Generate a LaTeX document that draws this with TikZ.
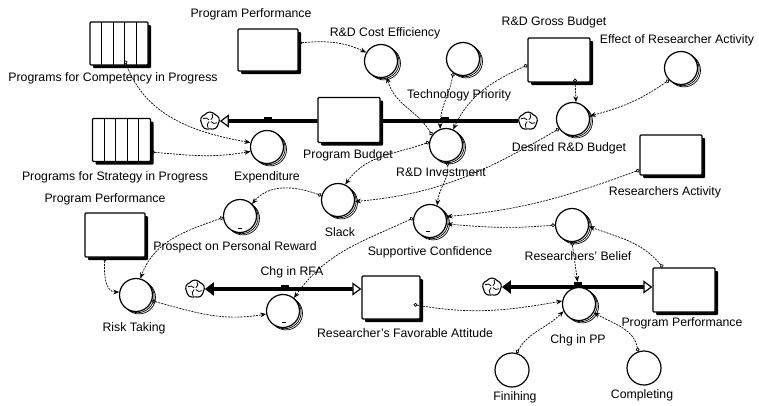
\documentclass[tikz,border=0pt]{standalone}
\usepackage{fontspec}
\setmainfont{Liberation Sans}
\usetikzlibrary{arrows.meta,shapes.symbols,shadows}
\pgfdeclarelayer{bg}
\pgfdeclarelayer{pipes}
\pgfsetlayers{bg,pipes,main}
\tikzset{
  stock/.style={draw, line width=1.2pt, fill=white, rounded corners=1pt,
    minimum width=60pt, minimum height=42pt, inner sep=0pt,
    drop shadow={shadow xshift=3pt, shadow yshift=-3pt, fill=black, opacity=1}},
  conveyor/.style={stock, minimum width=58pt, minimum height=43pt,
    path picture={\foreach \k in {1,2,3,4}{\draw[line width=1pt]
      ([xshift=\k*11.6pt]path picture bounding box.south west) --
      ([xshift=\k*11.6pt]path picture bounding box.north west);}}},
  aux/.style={circle, draw, line width=1.2pt, fill=white, minimum size=33pt, inner sep=0pt,
    copy shadow={shadow xshift=3pt, shadow yshift=-2.4pt, line width=0.7pt},
    copy shadow={shadow xshift=1.6pt, shadow yshift=-1.2pt, line width=0.7pt}},
  plainaux/.style={circle, draw, line width=1.2pt, fill=white, minimum size=34pt, inner sep=0pt},
  sink/.style={cloud, cloud puffs=5, cloud puff arc=110, aspect=1, draw, line width=1.1pt,
    fill=white, minimum width=19pt, minimum height=18pt, inner sep=0pt,
    path picture={\foreach \a in {45,135,225,315}{\draw[line width=0.8pt]
      (path picture bounding box.center) ++(\a:1.2pt)
      arc[start angle=\a-100, end angle=\a-10, radius=4.5pt];}}},
  valve/.style={fill=black, minimum width=8pt, minimum height=6pt, inner sep=0pt},
  pipe/.style={line width=3.8pt},
  lbl/.style={inner sep=0pt},
  gmark/.style={line width=0.8pt},
  conn/.style={line width=0.7pt, dash pattern=on 2pt off 1.1pt,
    {Circle[open,length=3.8pt,line width=0.7pt]}-{Stealth[length=6pt,width=4.8pt]}},
  hollowtip/.style={-{Triangle[open,length=9pt,width=13pt,line width=1.2pt]}},
}
\begin{document}
\begin{tikzpicture}[x=1pt, y=1pt, font=\fontsize{12.3}{14}\selectfont]
\useasboundingbox (0,0) rectangle (759,-405);
\begin{pgfonlayer}{bg}
  \fill[white] (0,0) rectangle (759,-405);
\end{pgfonlayer}

% conveyors
\node[conveyor] (pcomp) at (119,-43.5) {};
\node[lbl] (tpcomp) at (113,-78) {Programs for Competency in Progress};
\node[conveyor] (pstrat) at (121.5,-140) {};
\node[lbl] (tpstrat) at (115,-177) {Programs for Strategy in Progress};

% stocks
\node[stock] (pptop) at (268,-50) {};
\node[lbl] (tpptop) at (251,-14) {Program Performance};
\node[stock, minimum width=62pt, minimum height=45pt] (pbud) at (349,-120) {};
\node[lbl] (tpbud) at (348,-155) {Program Budget};
\node[stock, minimum width=62pt, minimum height=44pt] (rdgb) at (559,-60) {};
\node[lbl] (trdgb) at (554,-22) {R\&D Gross Budget};
\node[stock, minimum width=62pt, minimum height=40pt] (ract) at (671,-155) {};
\node[lbl] (tract) at (665,-192) {Researchers Activity};
\node[stock, minimum height=44pt] (ppleft) at (115,-235) {};
\node[lbl] (tppleft) at (105,-199) {Program Performance};
\node[stock, minimum width=58pt, minimum height=43pt] (rfa) at (391,-297.5) {};
\node[lbl] (trfa) at (405,-333) {Researcher's Favorable Attitude};
\node[stock, minimum width=62pt, minimum height=44pt] (ppright) at (684,-290) {};
\node[lbl] (tppright) at (682,-323) {Program Performance};

% converters
\node[aux] (rdce) at (381,-61) {};
\node[lbl] (trdce) at (385,-33) {R\&D Cost Efficiency};
\node[aux] (tech) at (463,-59) {};
\node[lbl] (ttech) at (459,-95) {Technology Priority};
\node[aux] (effra) at (681,-68) {};
\node[lbl] (teffra) at (677,-40) {Effect of Researcher Activity};
\node[aux] (drdb) at (573,-119) {};
\node[lbl] (tdrdb) at (569,-148) {Desired R\&D Budget};
\node[aux] (expd) at (267,-147) {};
\node[lbl] (texpd) at (267,-177) {Expenditure};
\node[aux] (rdinv) at (446,-145) {};
\node[lbl] (trdinv) at (441,-172) {R\&D Investment};
\node[aux] (slack) at (338,-200) {};
\node[lbl] (tslack) at (340,-232) {Slack};
\node[aux] (ppr) at (240,-216) {};
\node[lbl] (tppr) at (235,-247) {Prospect on Personal Reward};
\node[aux] (supc) at (430,-221) {};
\node[lbl] (tsupc) at (430,-252) {Supportive Confidence};
\node[aux] (rbel) at (572,-225) {};
\node[lbl] (trbel) at (578,-256) {Researchers' Belief};
\node[aux] (risk) at (136,-295) {};
\node[lbl] (trisk) at (134,-328) {Risk Taking};
\node[aux] (crfa) at (283,-311) {};
\node[lbl] (tcrfa) at (292,-272) {Chg in RFA};
\node[aux] (cpp) at (579,-304) {};
\node[lbl] (tcpp) at (578,-340) {Chg in PP};
\node[plainaux] (fin) at (512,-370) {};
\node[lbl] (tfin) at (515,-397) {Finihing};
\node[plainaux] (comp) at (644,-368) {};
\node[lbl] (tcomp) at (642,-395) {Completing};

% graph marks inside converters
\draw[gmark] ([xshift=-2pt,yshift=-12pt]ppr.center) -- ++(4pt,0);
\draw[gmark] ([xshift=-4pt,yshift=-10pt]supc.center) -- ++(4pt,0);
\draw[gmark] ([xshift=-1pt,yshift=-11pt]crfa.center) -- ++(4pt,0);

% sources and sinks
\node[sink] (cl1) at (210,-121) {};
\node[sink] (cl2) at (528,-121) {};
\node[sink] (cl3) at (195,-289) {};
\node[sink] (cl4) at (492,-287) {};

% valves
\node[valve] (v1) at (268,-120) {};
\node[valve] (v2) at (445,-120) {};
\node[valve] (v3) at (285,-288) {};
\node[valve] (v4) at (578,-285) {};

% flow pipes
\begin{pgfonlayer}{pipes}
  \draw[pipe, hollowtip] (pbud.west |- cl1) -- (cl1);
  \draw[pipe] (cl2) -- (pbud.east |- cl2);
  \draw[pipe, {Triangle[length=9pt,width=13pt]}-{Triangle[open,length=9pt,width=13pt,line width=1.2pt]}]
    (cl3) -- (rfa.west |- cl3);
  \draw[pipe, {Triangle[length=9pt,width=13pt]}-{Triangle[open,length=9pt,width=13pt,line width=1.2pt]}]
    (cl4) -- (ppright.west |- cl4);
\end{pgfonlayer}

% connectors
\draw[conn] ([xshift=6pt,yshift=5pt]pcomp.south) to[out=-70,in=170] (expd.165);
\draw[conn] ([yshift=-12pt]pstrat.east) to[out=-5,in=190] (expd.195);
\draw[conn] ([yshift=7pt]pptop.east) to[out=5,in=155] (rdce.150);
\draw[conn] (rdinv.145) to[out=120,in=-75] (rdce.-70);
\draw[conn] (tech.235) to[out=-100,in=90] (rdinv.110);
\draw[conn] ([yshift=-5pt]rdgb.west) to[out=205,in=65] (rdinv.65);
\draw[conn] ([xshift=16pt,yshift=4pt]rdgb.south) -- (drdb.80);
\draw[conn] (effra.225) to[out=215,in=15] (drdb.10);
\draw[conn] (drdb.215) to[out=210,in=5] (slack.-5);
\draw[conn] (rdinv.170) to[out=200,in=55] (slack.65);
\draw[conn] (rdinv.-85) to[out=-85,in=85] (supc.65);
\draw[conn] (slack.165) to[out=160,in=50] (ppr.45);
\draw[conn] (ppr.185) to[out=200,in=70] (risk.75);
\draw[conn] ([xshift=-10pt]ppleft.south) to[out=-95,in=180] (risk.170);
\draw[conn] (risk.-20) to[out=-15,in=190] (crfa.190);
\draw[conn] (supc.170) to[out=205,in=55] (crfa.50);
\draw[conn] ([yshift=-15pt]ract.west) to[out=200,in=5] (supc.15);
\draw[conn] (rbel.180) to[out=185,in=-5] (supc.-10);
\draw[conn] ([xshift=-21pt]ppright.north) to[out=130,in=-20] (rbel.-5);
\draw[conn] (rbel.-90) -- (v4);
\draw[conn] ([xshift=-7pt,yshift=-7pt]rfa.east) to[out=-10,in=190] (cpp.170);
\draw[conn] (fin.75) to[out=60,in=225] (cpp.205);
\draw[conn] (comp.110) to[out=100,in=-30] (cpp.-30);
\end{tikzpicture}
\end{document}
